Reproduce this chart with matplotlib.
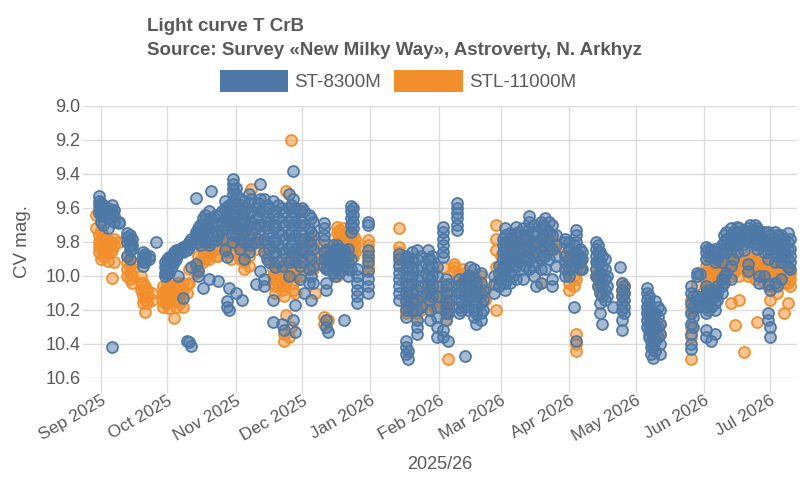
import numpy as np
import pandas as pd
import matplotlib
matplotlib.use("Agg")
import matplotlib.pyplot as plt
import matplotlib.dates as mdates
from matplotlib.patches import Patch

blue_label = "ST-8300M"
blue_nights = [
    "2025-08-31", "2025-09-01", "2025-09-02", "2025-09-04", "2025-09-06", "2025-09-07", "2025-09-09",
    "2025-09-13", "2025-09-14", "2025-09-15", "2025-09-20", "2025-09-21", "2025-09-23", "2025-09-26",
    "2025-09-30", "2025-10-01", "2025-10-02", "2025-10-03", "2025-10-04", "2025-10-05", "2025-10-06",
    "2025-10-07", "2025-10-08", "2025-10-10", "2025-10-11", "2025-10-12", "2025-10-14", "2025-10-15",
    "2025-10-16", "2025-10-17", "2025-10-18", "2025-10-20", "2025-10-21", "2025-10-23", "2025-10-24",
    "2025-10-26", "2025-10-27", "2025-10-28", "2025-10-29", "2025-10-31", "2025-11-01", "2025-11-03",
    "2025-11-04", "2025-11-05", "2025-11-07", "2025-11-08", "2025-11-10", "2025-11-11", "2025-11-12",
    "2025-11-14", "2025-11-15", "2025-11-16", "2025-11-18", "2025-11-19", "2025-11-20", "2025-11-22",
    "2025-11-23", "2025-11-25", "2025-11-26", "2025-11-27", "2025-11-28", "2025-11-30", "2025-12-01",
    "2025-12-02", "2025-12-04", "2025-12-05", "2025-12-06", "2025-12-11", "2025-12-12", "2025-12-13",
    "2025-12-15", "2025-12-16", "2025-12-17", "2025-12-18", "2025-12-19", "2025-12-20", "2025-12-22",
    "2025-12-23", "2025-12-24", "2025-12-26", "2025-12-31", "2026-01-14", "2026-01-17", "2026-01-18",
    "2026-01-20", "2026-01-22", "2026-01-24", "2026-01-27", "2026-01-28", "2026-01-29", "2026-01-31",
    "2026-02-03", "2026-02-04", "2026-02-05", "2026-02-09", "2026-02-10", "2026-02-11", "2026-02-13",
    "2026-02-14", "2026-02-15", "2026-02-17", "2026-02-18", "2026-02-20", "2026-02-21", "2026-02-26",
    "2026-02-28", "2026-03-02", "2026-03-03", "2026-03-05", "2026-03-06", "2026-03-08", "2026-03-09",
    "2026-03-11", "2026-03-12", "2026-03-14", "2026-03-16", "2026-03-17", "2026-03-19", "2026-03-20",
    "2026-03-21", "2026-03-23", "2026-03-24", "2026-03-26", "2026-03-30", "2026-04-01", "2026-04-03",
    "2026-04-04", "2026-04-06", "2026-04-07", "2026-04-13", "2026-04-14", "2026-04-15", "2026-04-16",
    "2026-04-17", "2026-04-18", "2026-04-21", "2026-04-24", "2026-04-25", "2026-04-26", "2026-05-06",
    "2026-05-07", "2026-05-08", "2026-05-09", "2026-05-10", "2026-05-11", "2026-05-12", "2026-05-26",
    "2026-05-27", "2026-05-29", "2026-05-30", "2026-06-02", "2026-06-03", "2026-06-04", "2026-06-06",
    "2026-06-07", "2026-06-09", "2026-06-10", "2026-06-11", "2026-06-13", "2026-06-14", "2026-06-16",
    "2026-06-17", "2026-06-19", "2026-06-21", "2026-06-22", "2026-06-24", "2026-06-25", "2026-06-26",
    "2026-06-28", "2026-06-30", "2026-07-01", "2026-07-03", "2026-07-04", "2026-07-06", "2026-07-07",
    "2026-07-09", "2026-07-10",
]
blue_mags = [
    [9.53, 9.56, 9.58, 9.61, 9.63], [9.57, 9.60, 9.62, 9.65, 9.68], [9.58, 9.62, 9.64, 9.70],
    [9.60, 9.63, 9.66, 9.72], [9.58, 9.62, 9.64, 10.42], [9.61, 9.65, 9.68], [9.68, 9.69],
    [9.75, 9.77, 9.80, 9.88], [9.76, 9.79, 9.82, 9.85, 9.90], [9.78, 9.82, 9.84],
    [9.86, 9.88, 9.90, 9.92, 9.94], [9.87, 9.89, 9.92], [9.88, 9.90], [9.80],
    [9.92, 9.95, 9.98, 10.00], [9.90, 9.93, 9.96, 9.99], [9.89, 9.92, 9.95, 9.98], [9.88, 9.91, 9.94],
    [9.86, 9.89, 9.92], [9.85, 9.88, 9.90], [9.85, 9.87, 10.00],
    [9.84, 9.86], [9.83, 9.86, 10.13], [9.82, 9.85, 10.38], [9.80, 9.83, 10.39], [9.78, 9.81, 9.95, 10.41],
    [9.74, 9.76, 9.78, 9.54, 9.93], [9.72, 9.75, 9.80, 9.97, 10.00],
    [9.70, 9.74, 9.78, 9.82], [9.66, 9.70, 9.76, 10.07], [9.64, 9.67, 9.72, 9.80],
    [9.62, 9.67, 9.72, 9.78, 9.82, 10.02], [9.66, 9.70, 9.75, 9.80, 9.50], [9.64, 9.69, 9.74, 9.79],
    [9.65, 9.70, 9.76, 10.03], [9.62, 9.68, 9.73, 9.78], [9.56, 9.60, 9.66, 9.72, 9.85],
    [9.60, 9.64, 9.70, 9.89, 10.15, 10.18], [9.58, 9.62, 9.68, 10.20, 10.07],
    [9.43, 9.46, 9.49, 9.52, 9.56, 9.60, 9.64, 9.68, 9.72, 9.76, 9.80],
    [9.48, 9.52, 9.58, 9.64, 9.70, 9.76, 10.10], [9.55, 9.60, 9.66, 9.72, 9.78, 9.84],
    [9.58, 9.63, 9.70, 9.76, 10.14], [9.56, 9.62, 9.68, 9.74, 9.80, 9.90],
    [9.52, 9.57, 9.63, 9.70, 9.78, 9.86], [9.55, 9.62, 9.68, 9.75, 9.82],
    [9.60, 9.66, 9.72, 9.80, 10.05], [9.57, 9.64, 9.70, 9.78], [9.46, 9.55, 9.62, 9.70, 9.97],
    [9.55, 9.62, 9.70, 9.78, 9.86, 10.02, 10.06], [9.58, 9.65, 9.72, 9.80, 9.90],
    [9.60, 9.68, 9.76, 9.84, 9.92], [9.56, 9.64, 9.72, 9.80, 9.88, 10.14, 10.27],
    [9.62, 9.70, 9.78, 9.86, 9.95], [9.58, 9.66, 9.74, 9.82, 9.92],
    [9.60, 9.68, 9.76, 9.84, 9.94, 10.28], [9.62, 9.70, 9.78, 9.86, 10.32],
    [9.52, 9.60, 9.68, 9.76, 9.84, 9.92, 10.00], [9.58, 9.66, 9.74, 9.82, 9.90],
    [9.38, 9.55, 9.62, 9.70, 9.78, 9.86, 10.26], [9.60, 9.68, 9.76, 9.84, 9.92, 10.17, 10.33],
    [9.62, 9.70, 9.78, 9.86, 9.94, 10.02], [9.60, 9.68, 9.76, 9.84, 9.92],
    [9.62, 9.70, 9.78, 9.86, 10.10], [9.64, 9.72, 9.80, 9.88, 9.96, 10.04],
    [9.66, 9.74, 9.82, 9.90, 10.00, 10.14], [9.68, 9.76, 9.84, 9.94, 10.04],
    [9.69, 9.72, 9.76, 9.79, 9.86, 9.90, 9.94], [9.85, 9.90, 9.96, 10.04, 10.08, 10.26, 10.30],
    [9.88, 9.92, 9.96, 10.33], [9.82, 9.86, 9.90, 9.94, 9.98], [9.84, 9.88, 9.92, 9.96, 10.00],
    [9.82, 9.86, 9.90, 9.95], [9.84, 9.88, 9.92, 9.98], [9.86, 9.90, 9.94], [9.85, 9.90, 9.95, 10.26],
    [9.84, 9.88, 9.92, 9.96, 10.00], [9.59, 9.62, 9.66, 9.70, 9.74, 9.90, 9.96], [9.60, 9.64, 9.68, 9.72],
    [9.96, 10.00, 10.04, 10.08, 10.12, 10.16],
    [9.68, 9.70, 9.85, 9.88, 9.92, 9.97, 10.02, 10.06, 10.10],
    [9.87, 9.90, 9.94, 9.98, 10.02, 10.06, 10.10, 10.14],
    [9.88, 9.92, 9.96, 10.00, 10.05, 10.10, 10.15, 10.20, 10.24, 10.38, 10.42, 10.46],
    [9.90, 9.95, 10.00, 10.06, 10.12, 10.18, 10.44, 10.49],
    [9.86, 9.90, 9.95, 10.00, 10.05, 10.10, 10.15, 10.20],
    [9.85, 9.90, 9.96, 10.02, 10.08, 10.14, 10.20, 10.26, 10.30, 10.34],
    [9.88, 9.94, 10.00, 10.06, 10.12, 10.18], [9.85, 9.90, 9.95, 10.00, 10.05, 10.10],
    [9.90, 9.96, 10.02, 10.08, 10.14, 10.20, 10.26], [9.88, 9.94, 10.00, 10.06, 10.12],
    [9.95, 10.00, 10.06, 10.12, 10.18, 10.24, 10.30, 10.36],
    [9.71, 9.74, 9.78, 9.82, 9.86, 9.89, 10.32, 10.36], [10.02, 10.06, 10.10, 10.14, 10.18, 10.22, 10.26],
    [10.05, 10.10, 10.16, 10.22, 10.38], [9.57, 9.60, 9.63, 9.66, 9.70, 9.73],
    [10.02, 10.06, 10.10, 10.14, 10.18, 10.22], [10.05, 10.10, 10.15, 10.20],
    [10.02, 10.06, 10.12, 10.18, 10.47], [10.00, 10.05, 10.10, 10.15, 10.20], [9.95, 10.00, 10.06, 10.12],
    [9.96, 10.02, 10.08, 10.14, 10.20, 10.24], [10.04, 10.10, 10.16, 10.22, 10.28],
    [9.98, 10.04, 10.10, 10.16, 10.22, 10.26], [10.08, 10.14, 10.20], [10.00, 10.05, 10.10],
    [9.94, 9.98, 10.02, 10.06], [9.78, 9.82, 9.86, 9.90, 9.95, 10.00, 10.04],
    [9.72, 9.76, 9.80, 9.84, 9.88, 9.92, 9.96, 10.00, 10.04, 10.08],
    [9.75, 9.80, 9.86, 9.92, 9.98, 10.04], [9.78, 9.82, 9.88, 9.94, 10.00],
    [9.71, 9.76, 9.82, 9.88, 9.94, 10.02], [9.74, 9.80, 9.86, 9.92],
    [9.72, 9.78, 9.84, 9.90, 9.96, 10.02], [9.76, 9.82, 9.88, 9.94],
    [9.65, 9.68, 9.72, 9.78, 9.84, 9.90, 9.96], [9.70, 9.76, 9.82, 9.88, 9.94, 10.00],
    [9.74, 9.80, 9.86, 9.92, 10.06], [9.68, 9.72, 9.78, 9.84, 9.90, 9.96, 10.04], [9.70, 9.76, 9.82, 9.88],
    [9.66, 9.72, 9.80, 9.88, 9.96], [9.68, 9.74, 9.82, 9.90], [9.70, 9.76, 9.84, 10.02, 10.06],
    [9.76, 9.82, 9.88, 9.94], [9.78, 9.80, 9.88, 9.92, 9.96, 10.00], [9.80, 9.84, 9.90, 9.96, 10.00],
    [9.82, 9.86, 9.90, 9.94, 10.18], [9.73, 9.76, 9.80, 9.86, 9.92, 10.38], [9.84, 9.88, 9.92, 9.96],
    [9.86, 9.90, 9.96], [9.80, 9.84, 9.88, 9.92, 9.96, 10.00], [9.82, 9.86, 9.92, 10.00, 10.06],
    [9.86, 9.92, 9.98, 10.04, 10.10, 10.16, 10.22], [9.88, 9.94, 10.00, 10.06, 10.12, 10.28],
    [9.90, 9.96, 10.02, 10.08, 10.14], [10.00, 10.06, 10.12], [10.18], [9.95],
    [10.04, 10.08, 10.12, 10.16, 10.20, 10.26, 10.32], [10.06, 10.10, 10.14, 10.18, 10.22],
    [10.07, 10.10, 10.14, 10.18, 10.22, 10.26, 10.30], [10.12, 10.16, 10.20, 10.24, 10.28, 10.32, 10.36],
    [10.20, 10.26, 10.32, 10.38, 10.42, 10.46], [10.25, 10.30, 10.36, 10.42, 10.48],
    [10.15, 10.22, 10.30, 10.38, 10.44], [10.18, 10.24, 10.30, 10.36], [10.20, 10.28, 10.34, 10.40, 10.46],
    [10.06, 10.10, 10.16, 10.22, 10.28, 10.34, 10.40, 10.43], [10.12, 10.18, 10.24, 10.30],
    [9.98, 10.00, 10.12, 10.15, 10.18], [9.99, 10.13, 10.17],
    [9.83, 9.86, 9.90, 10.06, 10.10, 10.14, 10.18, 10.22, 10.32, 10.36],
    [9.84, 9.88, 10.08, 10.12, 10.16, 10.20], [9.85, 9.89, 10.10, 10.14, 10.18, 10.38],
    [9.84, 9.88, 9.92, 10.08, 10.12, 10.16, 10.20, 10.34], [9.86, 9.90, 10.06, 10.10, 10.14],
    [9.82, 9.86, 9.92, 10.02, 10.06, 10.10], [9.76, 9.80, 9.84, 10.00, 10.04],
    [9.74, 9.78, 9.82, 9.86, 9.98], [9.72, 9.76, 9.80, 9.84, 9.94, 10.02], [9.74, 9.78, 9.82, 9.90],
    [9.71, 9.74, 9.78, 9.82, 9.86], [9.72, 9.76, 9.80], [9.73, 9.77, 9.81, 9.85],
    [9.72, 9.76, 9.80, 9.93, 9.97], [9.70, 9.74, 9.78], [9.70, 9.73, 9.77, 9.81],
    [9.72, 9.76, 9.80, 9.84], [9.74, 9.78, 9.82, 10.00, 10.04], [9.74, 9.78, 9.82, 9.86, 10.00],
    [9.74, 9.78, 9.82, 9.86, 9.90, 10.05, 10.22, 10.26], [9.76, 9.80, 9.84, 10.08, 10.30, 10.36],
    [9.74, 9.78, 9.82, 9.86, 9.92, 10.04], [9.76, 9.80, 9.84, 9.88, 10.06],
    [9.76, 9.80, 9.84, 9.88, 9.92, 10.02], [9.78, 9.82, 9.86, 9.90],
    [9.75, 9.80, 9.85, 9.90, 9.95], [9.78, 9.84, 9.88, 9.92, 9.96],
]

orange_label = "STL-11000M"
orange_nights = [
    "2025-08-30", "2025-08-31", "2025-09-01", "2025-09-02", "2025-09-03", "2025-09-04", "2025-09-05",
    "2025-09-06", "2025-09-07", "2025-09-09", "2025-09-13", "2025-09-14", "2025-09-15", "2025-09-19",
    "2025-09-20", "2025-09-21", "2025-09-22", "2025-09-24", "2025-09-29", "2025-09-30", "2025-10-01",
    "2025-10-02", "2025-10-03", "2025-10-04", "2025-10-05", "2025-10-06", "2025-10-07", "2025-10-08",
    "2025-10-10", "2025-10-11", "2025-10-14", "2025-10-15", "2025-10-17", "2025-10-18", "2025-10-20",
    "2025-10-21", "2025-10-23", "2025-10-24", "2025-10-27", "2025-10-28", "2025-10-30", "2025-10-31",
    "2025-11-03", "2025-11-04", "2025-11-05", "2025-11-07", "2025-11-08", "2025-11-10", "2025-11-12",
    "2025-11-15", "2025-11-18", "2025-11-19", "2025-11-20", "2025-11-22", "2025-11-23", "2025-11-24",
    "2025-11-25", "2025-11-26", "2025-11-27", "2025-11-28", "2025-11-30", "2025-12-02", "2025-12-05",
    "2025-12-06", "2025-12-07", "2025-12-11", "2025-12-12", "2025-12-13", "2025-12-15", "2025-12-17",
    "2025-12-18", "2025-12-20", "2025-12-22", "2025-12-24", "2025-12-25", "2025-12-31", "2026-01-14",
    "2026-01-17", "2026-01-18", "2026-01-20", "2026-01-22", "2026-01-24", "2026-01-27", "2026-01-28",
    "2026-01-30", "2026-01-31", "2026-02-03", "2026-02-04", "2026-02-05", "2026-02-08", "2026-02-09",
    "2026-02-12", "2026-02-13", "2026-02-15", "2026-02-17", "2026-02-18", "2026-02-20", "2026-02-22",
    "2026-02-27", "2026-03-01", "2026-03-03", "2026-03-05", "2026-03-06", "2026-03-08", "2026-03-09",
    "2026-03-11", "2026-03-12", "2026-03-14", "2026-03-16", "2026-03-19", "2026-03-21", "2026-03-23",
    "2026-03-25", "2026-03-30", "2026-04-01", "2026-04-03", "2026-04-04", "2026-04-06", "2026-04-13",
    "2026-04-14", "2026-04-15", "2026-04-25", "2026-04-26", "2026-05-06", "2026-05-07", "2026-05-09",
    "2026-05-10", "2026-05-12", "2026-05-26", "2026-05-27", "2026-05-29", "2026-06-02", "2026-06-03",
    "2026-06-04", "2026-06-06", "2026-06-07", "2026-06-09", "2026-06-10", "2026-06-11", "2026-06-13",
    "2026-06-14", "2026-06-15", "2026-06-16", "2026-06-17", "2026-06-19", "2026-06-21", "2026-06-22",
    "2026-06-24", "2026-06-25", "2026-06-26", "2026-06-28", "2026-06-30", "2026-07-01", "2026-07-03",
    "2026-07-04", "2026-07-06", "2026-07-07", "2026-07-09", "2026-07-10",
]
orange_mags = [
    [9.64, 9.72], [9.76, 9.80, 9.83, 9.86], [9.73, 9.78, 9.82, 9.90], [9.76, 9.80, 9.84, 9.88],
    [9.78, 9.82, 9.86], [9.80, 9.84, 9.91], [9.82, 9.86], [9.80, 9.85, 10.01], [9.78, 9.82, 9.92],
    [9.80], [9.88, 9.92, 9.96, 10.00], [9.90, 9.94, 9.98, 10.02], [9.92, 9.96, 10.00, 10.04],
    [10.00, 10.04, 10.08], [10.04, 10.08, 10.12, 10.16], [10.06, 10.10, 10.14, 10.21],
    [10.08, 10.12, 10.16], [10.10, 10.14], [10.06, 10.10, 10.14, 10.18], [10.08, 10.12, 10.16],
    [10.04, 10.08, 10.12, 10.16], [10.06, 10.10, 10.14, 10.19], [10.06, 10.10, 10.14],
    [10.08, 10.12, 10.25], [10.06, 10.10, 10.14, 10.18], [10.04, 10.08, 10.12], [10.06, 10.10, 10.16],
    [10.04, 10.08, 10.18], [10.05, 10.10], [9.96, 10.04], [9.94, 9.98], [9.88, 9.92, 9.96],
    [9.84, 9.88, 9.92], [9.85, 9.90], [9.82, 9.86, 9.90], [9.82, 9.86], [9.80, 9.84, 9.88],
    [9.84, 9.88], [9.78, 9.82, 9.86], [9.72, 9.76, 9.80], [9.74, 9.78, 9.82, 9.86, 9.90],
    [9.76, 9.80, 9.84], [9.75, 9.80, 9.85, 9.90], [9.72, 9.78, 9.84, 9.90],
    [9.74, 9.80, 9.86, 9.92, 9.96], [9.70, 9.76, 9.82, 9.88, 9.94], [9.49, 9.72, 9.78],
    [9.80, 9.84], [9.76, 9.80], [9.84, 9.88], [9.92, 9.96, 10.00, 10.04],
    [9.94, 9.98, 10.02, 10.06, 10.10], [9.96, 10.00, 10.05], [9.90, 9.96, 10.02, 10.08],
    [9.95, 10.00, 10.06, 10.12, 10.34, 10.38], [9.50, 9.92, 9.98, 10.04, 10.23],
    [9.88, 9.94, 10.00, 10.36], [9.20, 9.58, 9.86, 9.92, 9.98, 10.30], [9.92, 9.98, 10.04, 10.08],
    [9.90, 9.94, 10.00, 10.10], [9.61, 9.88, 9.94, 10.00], [9.80, 9.86, 9.92],
    [9.78, 9.84, 9.90, 9.96], [9.79, 9.84, 9.90, 9.96], [10.10],
    [9.82, 9.86, 9.90, 9.94, 10.24, 10.28], [9.84, 9.88, 9.92], [10.26], [9.86, 9.90],
    [9.71, 9.75, 9.80, 9.84, 10.00], [9.73, 9.77, 9.81, 9.85], [9.72, 9.76, 9.80],
    [9.74, 9.78, 9.82], [9.76, 9.80, 9.84, 9.89], [9.78, 9.82, 9.86],
    [9.79, 9.82, 9.86, 9.90, 9.94, 9.96], [9.72, 9.83, 9.86, 9.89, 9.93],
    [10.10, 10.14, 10.18, 10.22], [10.12, 10.16, 10.20], [10.05, 10.10, 10.16],
    [10.14, 10.18, 10.22, 10.26], [10.10, 10.14, 10.20], [10.06, 10.10, 10.14],
    [10.12, 10.16, 10.20], [10.08, 10.14, 10.18], [10.10, 10.15], [9.95, 10.05, 10.12, 10.18],
    [10.10, 10.16, 10.22, 10.26], [10.14, 10.20, 10.49], [9.93, 9.95, 9.97], [10.00, 10.06],
    [9.96, 10.00, 10.04, 10.08], [9.98, 10.02, 10.06], [10.00, 10.04], [10.04, 10.08, 10.12],
    [10.02, 10.06, 10.10], [10.00, 10.06, 10.12], [10.08, 10.14],
    [9.70, 9.78, 9.85, 9.95, 10.05, 10.20], [9.88, 9.94, 10.02], [9.80, 9.84, 9.88, 9.92],
    [9.78, 9.82, 9.86], [9.80, 9.84, 9.88], [9.82, 9.86, 9.90], [9.79, 9.83], [9.80, 9.84, 9.88],
    [9.76, 9.80], [9.78, 9.82, 9.86], [9.80, 9.84], [10.04], [9.78, 9.82, 9.86], [9.76, 9.80, 9.84],
    [9.80, 9.84], [9.87, 9.92, 9.96], [9.88, 9.92, 9.98, 10.04, 10.08], [9.90, 9.94, 10.00, 10.06],
    [9.92, 9.96, 10.02, 10.34, 10.40, 10.44], [9.90, 9.96], [9.96, 10.00], [9.98, 10.02, 10.06],
    [10.00, 10.04, 10.08], [10.04, 10.08, 10.12], [10.06, 10.10], [10.18, 10.22, 10.26],
    [10.22, 10.28, 10.34], [10.30, 10.38, 10.42], [10.32, 10.36, 10.44], [10.28, 10.34],
    [10.14, 10.18, 10.22, 10.30, 10.36, 10.49], [10.16, 10.20], [10.05],
    [9.94, 9.98, 10.02, 10.06, 10.10, 10.14], [9.96, 10.00, 10.04, 10.08], [9.92, 9.98, 10.04, 10.10],
    [9.90, 9.94, 9.98, 10.02, 10.06, 10.10], [9.92, 9.96, 10.00], [9.90, 9.94, 9.98, 10.04],
    [9.88, 9.92, 9.96, 10.00], [9.86, 9.90, 9.94], [9.88, 9.92, 9.96, 10.00, 10.16],
    [9.90, 9.94, 9.98], [10.29], [9.88, 9.92, 9.96], [9.90, 9.94, 10.00, 10.14], [10.45, 9.92, 9.96],
    [9.88, 9.92, 9.96, 10.00], [9.90, 9.94, 9.98], [9.88, 9.92, 9.96, 10.02],
    [9.90, 9.94, 9.98, 10.27], [9.90, 9.94, 9.98], [9.92, 9.96, 10.00, 10.04],
    [9.94, 9.98, 10.02, 10.06], [9.92, 9.96, 10.00, 10.14], [9.94, 9.98, 10.02, 10.06],
    [9.92, 9.96, 10.00, 10.10], [9.94, 9.98, 10.02], [9.96, 10.00, 10.04, 10.22],
    [9.96, 10.00, 10.04, 10.16], [9.98, 10.02, 10.06],
]

title_lines = ["Light curve T CrB", "Source: Survey \u00abNew Milky Way\u00bb, Astroverty, N. Arkhyz"]
x_title = "2025/26"
y_title = "CV mag."
blue_color = "#4e79a7"
orange_color = "#f28e2b"
text_color = "#595959"


def flatten(nights, mags):
    dates, values = [], []
    for night, vals in zip(nights, mags):
        for v in vals:
            dates.append(pd.Timestamp(night))
            values.append(v)
    return pd.to_datetime(dates), np.array(values)


plt.rcParams["font.family"] = ["Liberation Sans", "DejaVu Sans"]

fig = plt.figure(figsize=(8, 4.8), dpi=100)
ax = fig.add_axes([0.104, 0.2125, 0.892, 0.5667])

od, om = flatten(orange_nights, orange_mags)
bd, bm = flatten(blue_nights, blue_mags)

ax.scatter(od, om, s=62, facecolors=matplotlib.colors.to_rgba(orange_color, 0.5),
           edgecolors=orange_color, linewidths=1.3, zorder=3)
ax.scatter(bd, bm, s=62, facecolors=matplotlib.colors.to_rgba(blue_color, 0.5),
           edgecolors=blue_color, linewidths=1.3, zorder=4)

ax.set_ylim(10.6, 9.0)
ax.set_yticks(np.arange(9.0, 10.61, 0.2))
ax.yaxis.set_major_formatter(matplotlib.ticker.FormatStrFormatter("%.1f"))
ax.set_xlim(pd.Timestamp("2025-08-24"), pd.Timestamp("2026-07-13"))
ax.xaxis.set_major_locator(mdates.MonthLocator())
ax.xaxis.set_major_formatter(mdates.DateFormatter("%b %Y"))

for s in ax.spines.values():
    s.set_visible(False)
ax.grid(True, color="#dcdcdc", linewidth=1.0, zorder=0)
ax.set_axisbelow(True)
ax.tick_params(axis="y", length=0, pad=2, labelsize=13, labelcolor=text_color)
ax.tick_params(axis="x", length=11, width=1.0, color="#dcdcdc", pad=0, labelsize=12.5,
               labelcolor=text_color)
for lbl in ax.get_xticklabels():
    lbl.set_rotation(30)
    lbl.set_ha("right")
    lbl.set_rotation_mode("anchor")

ax.set_xlabel(x_title, fontsize=13, color=text_color, labelpad=8)
ax.set_ylabel(y_title, fontsize=13.5, color=text_color, labelpad=10)

fig.text(147 / 800, 1 - 31 / 480, title_lines[0], fontsize=13.5, fontweight="bold",
         color=text_color, va="baseline", ha="left")
fig.text(147 / 800, 1 - 55 / 480, title_lines[1], fontsize=13.5, fontweight="bold",
         color=text_color, va="baseline", ha="left")

handles = [Patch(facecolor=blue_color, edgecolor="none"),
           Patch(facecolor=orange_color, edgecolor="none")]
fig.legend(handles, [blue_label, orange_label], loc="center", bbox_to_anchor=(398 / 800, 1 - 81 / 480),
           ncol=2, frameon=False, fontsize=13.5, labelcolor=text_color,
           handlelength=3.65, handleheight=1.35, handletextpad=0.35, columnspacing=0.7,
           borderpad=0, borderaxespad=0)

fig.savefig("out.png", dpi=100)
